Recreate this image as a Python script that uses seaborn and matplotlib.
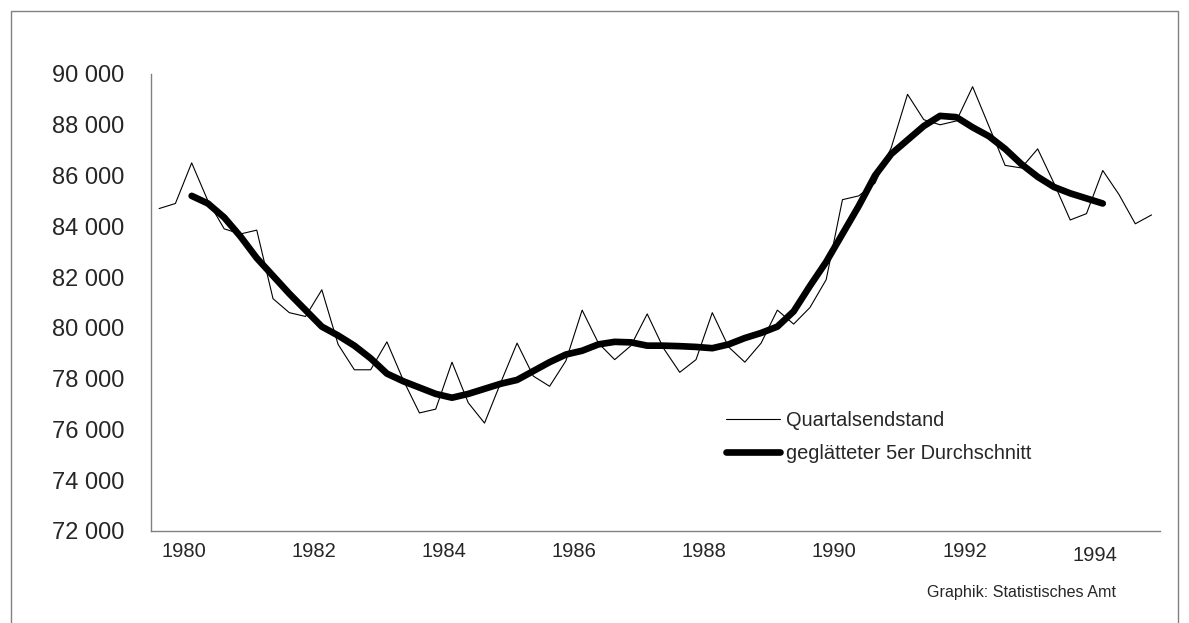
import numpy as np
import pandas as pd
import matplotlib
matplotlib.use("Agg")
import matplotlib.pyplot as plt
import seaborn as sns
from matplotlib.ticker import FuncFormatter, FixedLocator

# quarter-end values, 1980 Q1 .. 1995 Q2
raw_values = [84700, 84900, 86500, 85000, 83900, 83700, 83850, 81150, 80600, 80450,
              81500, 79350, 78350, 78350, 79450, 77950, 76650, 76800, 78650, 77050,
              76250, 77850, 79400, 78100, 77700, 78700, 80700, 79400, 78750, 79300,
              80550, 79200, 78250, 78750, 80600, 79250, 78650, 79400, 80700, 80150,
              80800, 81900, 85050, 85200, 85700, 87100, 89200, 88200, 88000, 88150,
              89500, 87950, 86400, 86300, 87050, 85700, 84250, 84500, 86200, 85250,
              84100, 84450]

# smoothed 5-point average (quarters 3..59)
smooth_values = [85200, 84900, 84350, 83600, 82750, 82050, 81350, 80700, 80050, 79700,
                 79300, 78800, 78200, 77900, 77650, 77400, 77250, 77400, 77600, 77800,
                 77950, 78300, 78650, 78950, 79100, 79350, 79450, 79430, 79300, 79300,
                 79280, 79250, 79200, 79350, 79600, 79800, 80050, 80650, 81650, 82600,
                 83700, 84800, 86000, 86850, 87400, 87950, 88350, 88300, 87900, 87550,
                 87050, 86450, 85950, 85550, 85300, 85100, 84900]
smooth_start = 2

year_labels = ["1980", "1982", "1984", "1986", "1988", "1990", "1992", "1994"]
y_ticks = [72000, 74000, 76000, 78000, 80000, 82000, 84000, 86000, 88000, 90000]

raw_df = pd.DataFrame({"q": np.arange(len(raw_values)), "v": raw_values})
smooth_df = pd.DataFrame({"q": np.arange(len(smooth_values)) + smooth_start,
                          "v": smooth_values})

sns.set_style("white")
plt.rcParams["font.family"] = ["Liberation Sans", "DejaVu Sans"]

fig = plt.figure(figsize=(11.89, 6.23), dpi=100)
ax = fig.add_axes([151 / 1189, 92 / 623, 1008.7 / 1189, 457 / 623])

sns.lineplot(data=raw_df, x="q", y="v", ax=ax, color="black", linewidth=0.8,
             label="Quartalsendstand")
sns.lineplot(data=smooth_df, x="q", y="v", ax=ax, color="black", linewidth=4.8,
             solid_capstyle="round", solid_joinstyle="round",
             label="geglätteter 5er Durchschnitt")

ax.set_xlim(-0.5, len(raw_values) - 0.5)
ax.set_ylim(72000, 90000)
ax.set_xlabel("")
ax.set_ylabel("")

# tick marks between years, labels centred in every second year
ax.xaxis.set_major_locator(FixedLocator(np.arange(-0.5, len(raw_values), 4)))
ax.set_xticklabels([])
ax.xaxis.set_minor_locator(FixedLocator(np.arange(len(year_labels)) * 8 + 1.5))
ax.xaxis.set_minor_formatter(FuncFormatter(lambda v, p: year_labels[p] if p < len(year_labels) else ""))
ax.tick_params(axis="x", which="major", direction="out", length=6, width=1, color="#808080")
ax.tick_params(axis="x", which="minor", length=0, pad=8, labelsize=14.5)
# the last year label sits a little lower in the original
ax.xaxis.get_minor_ticks()[-1].set_pad(11)

ax.set_yticks(y_ticks)
ax.yaxis.set_major_formatter(FuncFormatter(lambda v, p: f"{v:,.0f}".replace(",", " ")))
ax.tick_params(axis="y", direction="out", length=5, width=1, color="#808080",
               pad=14, labelsize=17)

for side in ["top", "right"]:
    ax.spines[side].set_visible(False)
for side in ["left", "bottom"]:
    ax.spines[side].set_color("#808080")
    ax.spines[side].set_linewidth(1)

leg = ax.legend(loc="upper left", bbox_to_anchor=(726 / 1189, (623 - 411) / 623),
                bbox_transform=fig.transFigure, frameon=False, fontsize=14.4,
                handlelength=2.7, handletextpad=0.3, labelspacing=0.68,
                borderaxespad=0, borderpad=0)

fig.text(1116 / 1189, (623 - 593) / 623, "Graphik: Statistisches Amt",
         ha="right", va="center", fontsize=11.6)

fig.patches.append(plt.Rectangle((11 / 1189, -0.05), 1167 / 1189, 1.05 - 11 / 623,
                                 transform=fig.transFigure, fill=False,
                                 edgecolor="#808080", linewidth=1))

fig.savefig("out.png", dpi=100)
